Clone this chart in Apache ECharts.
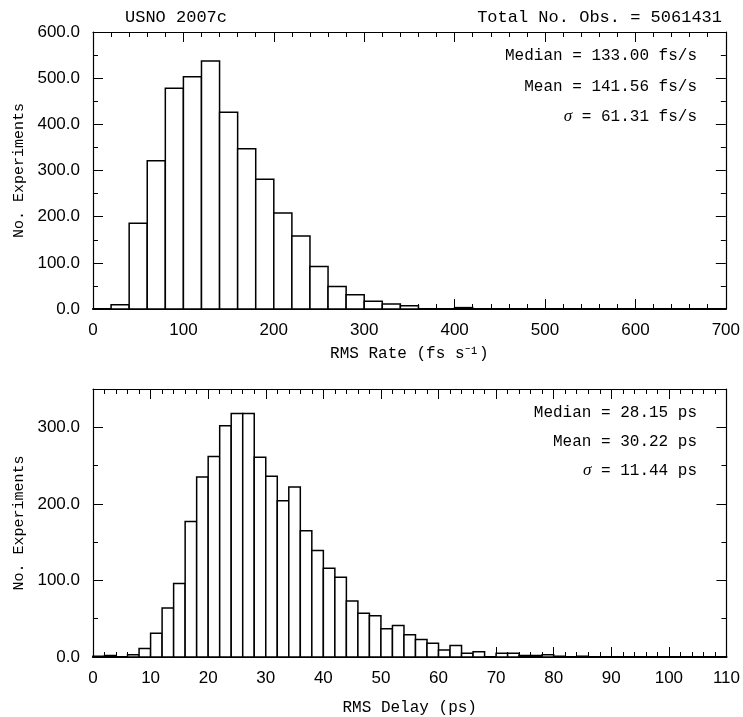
<!DOCTYPE html>
<html>
<head>
<meta charset="utf-8">
<script src="https://cdn.jsdelivr.net/npm/echarts@6/dist/echarts.min.js"></script>
<style>
html,body{margin:0;padding:0;background:#fff;}
#chart{width:743px;height:717px;}
</style>
</head>
<body>
<div id="chart"></div>
<script>
// ---- data ----
const headerLeft = 'USNO 2007c';
const headerRight = 'Total No. Obs. = 5061431';

const rateBinStart = 20;
const rateBinWidth = 20;
const rateCounts = [9, 186, 321, 478, 503, 537, 426, 347, 281, 208, 158, 92, 49, 31, 17, 11, 7, 0, 0, 3];
const rateStats = ['Median = 133.00 fs/s', 'Mean = 141.56 fs/s', '61.31 fs/s'];

const delayBinStart = 0;
const delayBinWidth = 2;
const delayCounts = [1, 2, 0, 3, 11, 31, 64, 96, 177, 235, 262, 302, 318, 318, 261, 236, 204, 222, 165, 139,
  116, 104, 73, 57, 54, 37, 41, 29, 23, 18, 9, 15, 5, 7, 0, 5, 5, 2, 2, 3, 1, 0, 1];
const delayStats = ['Median = 28.15 ps', 'Mean = 30.22 ps', '11.44 ps'];

// ---- build ----
function bins(start, width, counts) {
  return counts.map((c, i) => [start + i * width, start + (i + 1) * width, c]);
}
const MONO = 'Liberation Mono';
const SANS = 'Liberation Sans';

function renderBar(params, api) {
  const p0 = api.coord([api.value(0), 0]);
  const p1 = api.coord([api.value(1), api.value(2)]);
  return {
    type: 'rect',
    shape: { x: p0[0], y: p1[1], width: p1[0] - p0[0], height: p0[1] - p1[1] },
    style: { fill: '#fff', stroke: '#000', lineWidth: 1.5 }
  };
}

function xAx(grid, pos, max, interval, name, showLabel, gap) {
  return {
    type: 'value', gridIndex: grid, position: pos, min: 0, max: max, interval: interval,
    name: name, nameLocation: 'middle', nameGap: gap || 42,
    nameTextStyle: { fontFamily: MONO, fontSize: 16, color: '#000' },
    axisLine: { show: true, onZero: false, lineStyle: { color: '#000', width: pos === 'bottom' ? 2.2 : 1.2 } },
    axisTick: { show: true, inside: true, length: 10, lineStyle: { color: '#000', width: 1 } },
    minorTick: { show: true, splitNumber: 5, length: 5, lineStyle: { color: '#000', width: 1 } },
    axisLabel: { show: showLabel, margin: 13, fontFamily: SANS, fontSize: 17, color: '#000' },
    splitLine: { show: false }, minorSplitLine: { show: false }
  };
}
function yAx(grid, pos, max, name, showLabel) {
  return {
    type: 'value', gridIndex: grid, position: pos, min: 0, max: max, interval: 100,
    name: name, nameLocation: 'middle', nameGap: 64, nameRotate: 90,
    nameTextStyle: { fontFamily: MONO, fontSize: 15, color: '#000' },
    axisLine: { show: true, onZero: false, lineStyle: { color: '#000', width: 1.2 } },
    axisTick: { show: true, inside: true, length: 10, lineStyle: { color: '#000', width: 1 } },
    minorTick: { show: true, splitNumber: 2, length: 5, lineStyle: { color: '#000', width: 1 } },
    axisLabel: { show: showLabel, margin: 13, showMaxLabel: max % 100 === 0, fontFamily: SANS, fontSize: 17, color: '#000',
      formatter: v => v.toFixed(1) },
    splitLine: { show: false }, minorSplitLine: { show: false }
  };
}

function statTexts(lines, yStart, dy) {
  return lines.map((t, i) => ({
    type: 'text', x: 697, y: yStart + i * dy, z: 100,
    style: {
      text: i === 2 ? '{i|σ} = ' + t : t,
      align: 'right', verticalAlign: 'middle',
      font: '16px "' + MONO + '"', fill: '#000',
      rich: { i: { fontStyle: 'italic', fontFamily: 'Liberation Serif', fontSize: 17 } }
    }
  }));
}

const chart = echarts.init(document.getElementById('chart'), null, { renderer: 'canvas' });
chart.setOption({
  animation: false,
  backgroundColor: '#fff',
  grid: [
    { left: 93, right: 16, top: 32, height: 277 },
    { left: 93, right: 16, top: 389, height: 276 }
  ],
  xAxis: [
    xAx(0, 'bottom', 700, 100, 'RMS Rate (fs s⁻¹)', true, 37),
    xAx(0, 'top', 700, 100, '', false),
    xAx(1, 'bottom', 110, 10, 'RMS Delay (ps)', true, 43),
    xAx(1, 'top', 110, 10, '', false)
  ],
  yAxis: [
    yAx(0, 'left', 600, 'No. Experiments', true),
    yAx(0, 'right', 600, '', false),
    yAx(1, 'left', 350, 'No. Experiments', true),
    yAx(1, 'right', 350, '', false)
  ],
  series: [
    { type: 'custom', xAxisIndex: 0, yAxisIndex: 0, renderItem: renderBar,
      data: bins(rateBinStart, rateBinWidth, rateCounts), encode: { x: [0, 1], y: 2 } },
    { type: 'custom', xAxisIndex: 2, yAxisIndex: 2, renderItem: renderBar,
      data: bins(delayBinStart, delayBinWidth, delayCounts), encode: { x: [0, 1], y: 2 } }
  ],
  graphic: [
    { type: 'text', x: 125, y: 17, style: { text: headerLeft, align: 'left', verticalAlign: 'middle', font: '17px "' + MONO + '"', fill: '#000' } },
    { type: 'text', x: 722, y: 17, style: { text: headerRight, align: 'right', verticalAlign: 'middle', font: '17px "' + MONO + '"', fill: '#000' } }
  ].concat(statTexts(rateStats, 56, 30.5)).concat(statTexts(delayStats, 413, 29))
});
</script>
</body>
</html>
